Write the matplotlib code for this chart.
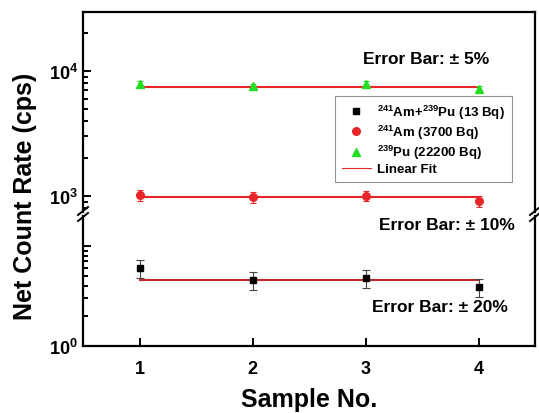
import matplotlib
matplotlib.use("Agg")
import matplotlib.pyplot as plt
from matplotlib.ticker import LogLocator, NullFormatter, FixedLocator
from matplotlib.lines import Line2D

plt.rcParams['font.family'] = ['Liberation Sans', 'DejaVu Sans']
plt.rcParams['font.weight'] = 'bold'
plt.rcParams['mathtext.fontset'] = 'custom'
plt.rcParams['mathtext.rm'] = 'Liberation Sans:bold'
plt.rcParams['mathtext.it'] = 'Liberation Sans:bold'
plt.rcParams['mathtext.bf'] = 'Liberation Sans:bold'
plt.rcParams['mathtext.default'] = 'rm'

# ---- data ----
samples = [1, 2, 3, 4]
mix_vals = [6.0, 4.57, 4.75, 3.89]          # 241Am+239Pu (13 Bq)
am_vals = [1019, 976, 1006, 907]            # 241Am (3700 Bq)
pu_vals = [7870, 7550, 7870, 7180]          # 239Pu (22200 Bq)
mix_fit = 4.60
am_fit = 982
pu_fit = 7490
mix_err = 0.20
am_err = 0.10
pu_err = 0.05
labels = [r'$^{241}$Am+$^{239}$Pu (13 Bq)', r'$^{241}$Am (3700 Bq)',
          r'$^{239}$Pu (22200 Bq)', 'Linear Fit']
x_ticks = [1, 2, 3, 4]

W, H = 539, 414
fig = plt.figure(figsize=(W / 100, H / 100), dpi=100)

def fx(px):
    return px / W

def fy(py):
    return 1 - py / H

left, right = 83, 535
top, brk_hi, brk_lo, bottom = 12.7, 213, 217, 347

ax_up = fig.add_axes([fx(left), fy(brk_hi), fx(right - left), (brk_hi - top) / H])
ax_lo = fig.add_axes([fx(left), fy(bottom), fx(right - left), (bottom - brk_lo) / H])

red = '#e8262a'
green = '#22dd22'

for ax in (ax_up, ax_lo):
    ax.set_yscale('log')
    ax.set_xlim(0.5, 4.5)
    for s in ax.spines.values():
        s.set_linewidth(1.6)
    ax.tick_params(axis='both', which='both', direction='in', width=1.4,
                   top=False, right=False, labelsize=13)
    ax.tick_params(which='major', length=6)
    ax.tick_params(which='minor', length=3.5)
    ax.tick_params(axis='x', pad=10)
    ax.yaxis.set_minor_locator(LogLocator(base=10, subs=range(2, 10)))
    ax.yaxis.set_minor_formatter(NullFormatter())

ax_up.set_ylim(10 ** (3 - (brk_hi - 197) / 125), 10 ** (4 + (72 - top) / 125))
ax_lo.set_ylim(1, 10 ** ((347 - brk_lo) / 100))

ax_up.spines['bottom'].set_visible(False)
ax_lo.spines['top'].set_visible(False)
ax_up.tick_params(axis='x', which='both', bottom=False, labelbottom=False)

ax_up.yaxis.set_major_locator(FixedLocator([1e3, 1e4]))
ax_up.set_yticklabels([r'$10^3$', r'$10^4$'])
ax_lo.yaxis.set_major_locator(FixedLocator([1, 10]))
ax_lo.set_yticklabels([r'$10^0$', ''])
ax_lo.set_xticks(x_ticks)
ax_lo.set_xticklabels([str(v) for v in x_ticks])
ax_lo.xaxis.set_minor_locator(FixedLocator([]))

# series
def errs(vals, e):
    return [[v * e for v in vals], [v * e for v in vals]]

ax_lo.errorbar(samples, mix_vals, yerr=errs(mix_vals, mix_err), fmt='s', color='black',
               ms=5, ecolor='#444444', elinewidth=0.8, capsize=3, capthick=0.8, zorder=3)
ax_up.errorbar(samples, am_vals, yerr=errs(am_vals, am_err), fmt='o', color=red,
               ms=5.5, ecolor=red, elinewidth=0.8, capsize=2.5, capthick=0.8, zorder=3)
ax_up.errorbar(samples, pu_vals, yerr=errs(pu_vals, pu_err), fmt='^', color=green,
               ms=6, ecolor=green, elinewidth=0.8, capsize=2, capthick=0.8, zorder=3)

ax_lo.plot([samples[0], samples[-1]], [mix_fit, mix_fit], color='#c02a2a', lw=1.5, zorder=2)
ax_up.plot([samples[0], samples[-1]], [am_fit, am_fit], color=red, lw=1.5, zorder=2)
ax_up.plot([samples[0], samples[-1]], [pu_fit, pu_fit], color=red, lw=1.5, zorder=2)

# break marks
for xp in (left, right):
    for yp in (brk_hi - 1, brk_lo + 1):
        fig.add_artist(Line2D([fx(xp - 5), fx(xp + 5)], [fy(yp + 4), fy(yp - 4)],
                              color='black', lw=1.4))

# annotations
fig.text(fx(426), fy(59), 'Error Bar: ± 5%', ha='center', va='center', fontsize=12.5)
fig.text(fx(447), fy(226), 'Error Bar: ± 10%', ha='center', va='center', fontsize=12.5)
fig.text(fx(440), fy(308), 'Error Bar: ± 20%', ha='center', va='center', fontsize=12.5)

fig.text(fx(25), fy(196), 'Net Count Rate (cps)', rotation=90, ha='center', va='center',
         fontsize=18)
fig.text(fx(309), fy(400), 'Sample No.', ha='center', va='center', fontsize=18)

# legend
handles = [
    Line2D([], [], marker='s', color='black', ls='none', ms=5),
    Line2D([], [], marker='o', color=red, ls='none', ms=5.5),
    Line2D([], [], marker='^', color=green, ls='none', ms=6),
    Line2D([], [], color=red, lw=0.8),
]
leg = fig.legend(handles, labels, loc='upper left', bbox_to_anchor=(fx(335), fy(97)),
                 fontsize=9.5, frameon=True, fancybox=False, borderaxespad=0,
                 handlelength=2.2, handletextpad=0.5, labelspacing=0.15, borderpad=0.5)
leg.get_frame().set_edgecolor('#777777')
leg.get_frame().set_linewidth(0.8)

fig.savefig('out.png', dpi=100)
